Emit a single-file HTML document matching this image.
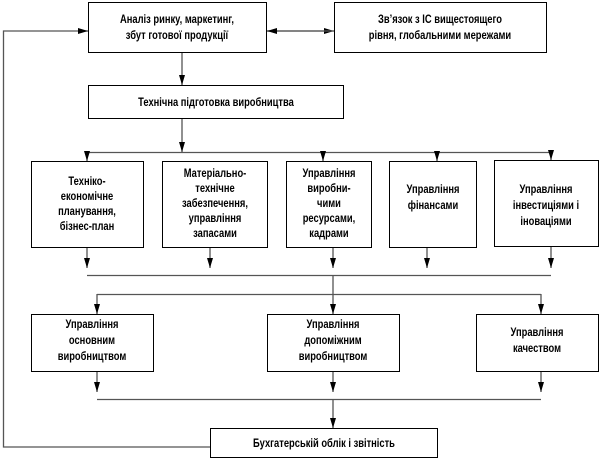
<!DOCTYPE html>
<html><head><meta charset="utf-8"><style>
html,body{margin:0;padding:0;background:#fff;}
svg{display:block;}
text{font-family:"Liberation Sans",sans-serif;font-weight:bold;font-size:12px;fill:#000;text-anchor:middle;}
</style></head><body>
<svg width="601" height="461" viewBox="0 0 601 461" xmlns="http://www.w3.org/2000/svg">
<defs>
<marker id="a" markerWidth="10" markerHeight="8" refX="10" refY="4" orient="auto" markerUnits="userSpaceOnUse">
<path d="M0,1 L10,4 L0,7 Z" fill="#000"/>
</marker>
</defs>
<g fill="#fff" stroke="#000" stroke-width="1">
<rect x="88.5" y="2.5" width="178" height="50"/>
<rect x="334.5" y="2.5" width="212" height="50"/>
<rect x="88.5" y="85.5" width="255" height="33"/>
<rect x="31.5" y="161.5" width="112" height="86"/>
<rect x="162.5" y="161.5" width="105" height="86"/>
<rect x="286.5" y="161.5" width="85" height="86"/>
<rect x="389.5" y="161.5" width="87" height="86"/>
<rect x="494.5" y="160.5" width="104" height="86"/>
<rect x="31.5" y="314.5" width="122" height="57"/>
<rect x="267.5" y="314.5" width="132" height="57"/>
<rect x="476.5" y="314.5" width="122" height="57"/>
<rect x="210.5" y="428.5" width="227" height="29"/>
</g>
<g stroke="#555" stroke-width="1.3" fill="none">
<polyline points="210,447 3.5,447 3.5,31 88,31" marker-end="url(#a)"/>
<line x1="267" y1="31" x2="334" y2="31" marker-end="url(#a)"/>
<line x1="334" y1="31" x2="267" y2="31" marker-end="url(#a)"/>
<line x1="182" y1="53" x2="182" y2="85" marker-end="url(#a)"/>
<line x1="182" y1="119" x2="182" y2="152" marker-end="url(#a)"/>
<line x1="87" y1="152.5" x2="551" y2="152.5"/>
<line x1="87" y1="152" x2="87" y2="161" marker-end="url(#a)"/>
<line x1="323" y1="152" x2="323" y2="161" marker-end="url(#a)"/>
<line x1="437" y1="152" x2="437" y2="161" marker-end="url(#a)"/>
<line x1="551" y1="152" x2="551" y2="160" marker-end="url(#a)"/>
<line x1="87" y1="248" x2="87" y2="268" marker-end="url(#a)"/>
<line x1="210" y1="248" x2="210" y2="268" marker-end="url(#a)"/>
<line x1="333" y1="248" x2="333" y2="268" marker-end="url(#a)"/>
<line x1="427" y1="248" x2="427" y2="268" marker-end="url(#a)"/>
<line x1="551" y1="247" x2="551" y2="268" marker-end="url(#a)"/>
<line x1="87" y1="275.5" x2="551" y2="275.5"/>
<line x1="333" y1="275" x2="333" y2="294"/>
<line x1="97" y1="294.5" x2="541" y2="294.5"/>
<line x1="97" y1="294" x2="97" y2="314" marker-end="url(#a)"/>
<line x1="333" y1="294" x2="333" y2="314" marker-end="url(#a)"/>
<line x1="541" y1="294" x2="541" y2="314" marker-end="url(#a)"/>
<line x1="97" y1="372" x2="97" y2="392" marker-end="url(#a)"/>
<line x1="333" y1="372" x2="333" y2="392" marker-end="url(#a)"/>
<line x1="541" y1="372" x2="541" y2="392" marker-end="url(#a)"/>
<line x1="97" y1="399.5" x2="541" y2="399.5"/>
<line x1="333" y1="399" x2="333" y2="428" marker-end="url(#a)"/>
</g>
<g>
<text x="177" y="23" transform="translate(177,0) scale(0.78,1) translate(-177,0)">Аналіз ринку, маркетинг,</text>
<text x="177" y="39" transform="translate(177,0) scale(0.78,1) translate(-177,0)">збут готової продукції</text>
<text x="440" y="23" transform="translate(440,0) scale(0.78,1) translate(-440,0)">Зв’язок з ІС вищестоящего</text>
<text x="440" y="39" transform="translate(440,0) scale(0.78,1) translate(-440,0)">рівня, глобальними мережами</text>
<text x="216" y="106" transform="translate(216,0) scale(0.78,1) translate(-216,0)">Технічна підготовка виробництва</text>
<g transform="translate(87,0) scale(0.78,1) translate(-87,0)">
<text x="87" y="185">Техніко-</text><text x="87" y="200">економічне</text><text x="87" y="215">планування,</text><text x="87" y="230">бізнес-план</text></g>
<g transform="translate(215,0) scale(0.78,1) translate(-215,0)">
<text x="215" y="177">Матеріально-</text><text x="215" y="192">технічне</text><text x="215" y="207">забезпечення,</text><text x="215" y="222">управління</text><text x="215" y="237">запасами</text></g>
<g transform="translate(329,0) scale(0.78,1) translate(-329,0)">
<text x="329" y="177">Управління</text><text x="329" y="192">виробни-</text><text x="329" y="207">чими</text><text x="329" y="222">ресурсами,</text><text x="329" y="237">кадрами</text></g>
<g transform="translate(433,0) scale(0.78,1) translate(-433,0)">
<text x="433" y="193">Управління</text><text x="433" y="209">фінансами</text></g>
<g transform="translate(546,0) scale(0.78,1) translate(-546,0)">
<text x="546" y="193">Управління</text><text x="546" y="209">інвестиціями і</text><text x="546" y="225">іноваціями</text></g>
<g transform="translate(92,0) scale(0.78,1) translate(-92,0)">
<text x="92" y="328">Управління</text><text x="92" y="344">основним</text><text x="92" y="360">виробництвом</text></g>
<g transform="translate(333,0) scale(0.78,1) translate(-333,0)">
<text x="333" y="328">Управління</text><text x="333" y="344">допоміжним</text><text x="333" y="360">виробництвом</text></g>
<g transform="translate(537,0) scale(0.78,1) translate(-537,0)">
<text x="537" y="336">Управління</text><text x="537" y="352">качеством</text></g>
<text x="324" y="447" transform="translate(324,0) scale(0.78,1) translate(-324,0)">Бухгатерській облік і звітність</text>
</g>
</svg>
</body></html>
